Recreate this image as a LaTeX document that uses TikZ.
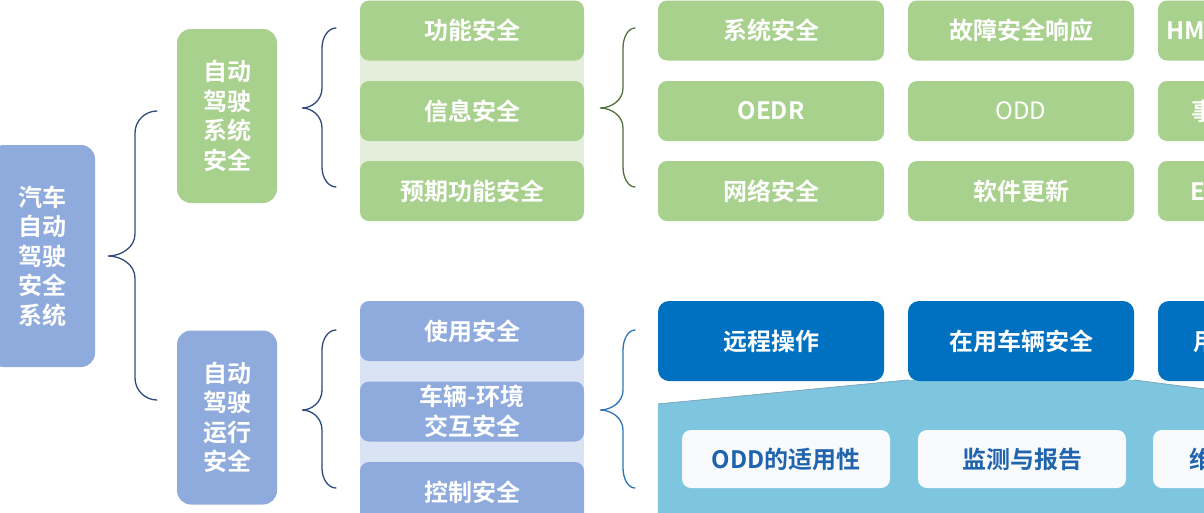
\documentclass[tikz,border=0pt]{standalone}
\usepackage{fontspec}
\setmainfont{Noto Sans CJK SC}[BoldFont={Noto Sans CJK SC Bold}]
\definecolor{cgreen}{HTML}{A9D18E}
\definecolor{cgreenbg}{HTML}{E3EFDA}
\definecolor{cblue}{HTML}{8FAADC}
\definecolor{cbluebg}{HTML}{DAE3F3}
\definecolor{cdeep}{HTML}{0070C0}
\definecolor{ccyan}{HTML}{7EC5E0}
\definecolor{cwhite}{HTML}{F8FAFC}
\definecolor{cwtext}{HTML}{1F64AD}
\definecolor{cnavy}{HTML}{2F4B7C}
\definecolor{cbrgreen}{HTML}{55703F}
\definecolor{cbrblue}{HTML}{2E75B6}
\newcommand{\drawbrace}[8]{% style, xp, ym, xv, xe, yt, yb, r
\draw[#1] (#5,#6) .. controls ({#4+0.45*(#5-#4)},#6) and (#4,{#6+0.45*#8}) .. (#4,{#6+#8})
 -- (#4,{#3-#8}) .. controls (#4,{#3-0.4*#8}) and ({#2+0.5*(#4-#2)},#3) .. (#2,#3)
 .. controls ({#2+0.5*(#4-#2)},#3) and (#4,{#3+0.4*#8}) .. (#4,{#3+#8})
 -- (#4,{#7-#8}) .. controls (#4,{#7-0.45*#8}) and ({#4+0.45*(#5-#4)},#7) .. (#5,#7);}
\tikzset{
  lbl/.style={font=\bfseries\fontsize{24}{29.5}\selectfont, text=white, align=center, inner sep=0pt},
  box/.style={rounded corners=9pt, inner sep=0pt, lbl},
  gbox/.style={box, fill=cgreen, minimum width=224pt, minimum height=60pt},
  bbox/.style={box, fill=cblue, minimum width=224pt, minimum height=60pt},
  ggrid/.style={box, fill=cgreen, minimum width=226pt, minimum height=60pt},
  dbox/.style={box, fill=cdeep, minimum width=226pt, minimum height=80pt, rounded corners=11pt},
  wbox/.style={box, fill=cwhite, text=cwtext, minimum width=208pt, minimum height=58pt},
  tall/.style={box, minimum width=100pt, minimum height=174pt, rounded corners=14pt},
  edge/.style={line width=1.3pt, line cap=round},
}
\begin{document}
\begin{tikzpicture}[x=1pt,y=-1pt]
\useasboundingbox (0,0) rectangle (1204,512);
\clip (0,0) rectangle (1204,512);
\fill[white] (0,0) rectangle (1204,512);
% root and level 2
\node[tall, fill=cblue, minimum width=105pt, minimum height=222pt] (root) at (42.5,256) {汽车\\自动\\驾驶\\安全\\系统};
\node[tall, fill=cgreen] (sys) at (227,116) {自动\\驾驶\\系统\\安全};
\node[tall, fill=cblue] (ops) at (227,417.5) {自动\\驾驶\\运行\\安全};
% middle column backgrounds
\fill[cgreenbg] (360,10) rectangle (584,211);
\fill[cbluebg] (360,311) rectangle (584,512);
\node[gbox] (f1) at (472,30.5) {功能安全};
\node[gbox] (f2) at (472,111) {信息安全};
\node[gbox] (f3) at (472,191) {预期功能安全};
\node[bbox] (u1) at (472,331) {使用安全};
\node[bbox] (u2) at (472,411.5) {车辆-环境\\交互安全};
\node[bbox] (u3) at (472,492) {控制安全};
% right green grid
\node[ggrid] (g11) at (771,30.5) {系统安全};
\node[ggrid] (g12) at (1021,30.5) {故障安全响应};
\node[ggrid] (g13) at (1271,30.5) {};
\node[ggrid] (g21) at (771,111) {OEDR};
\node[ggrid, font=\fontsize{24}{29.5}\selectfont] (g22) at (1021,111) {ODD};
\node[ggrid] (g23) at (1271,111) {};
\node[ggrid] (g31) at (771,191) {网络安全};
\node[ggrid] (g32) at (1021,191) {软件更新};
\node[ggrid] (g33) at (1271,191) {};
\node[lbl, anchor=west] (t13) at (1166,30.5) {HMI人机交互界面};
\node[lbl, anchor=west] (t23) at (1191,111) {事故后行为};
\node[lbl, anchor=west] (t33) at (1190,191) {EDR数据记录};
% lower right
\filldraw[fill=ccyan, draw=ccyan] (658,404) -- (908,380) -- (1134,380) -- (1204,389) -- (1204,520) -- (658,520) -- cycle;
\draw[line width=0.8pt, color=ccyan!60!gray] (658,404) -- (908,380) (1134,380) -- (1204,389);
\node[dbox] (d1) at (771,341) {远程操作};
\node[dbox] (d2) at (1021,341) {在用车辆安全};
\node[dbox] (d3) at (1271,341) {};
\node[lbl, anchor=west] (t43) at (1193,341) {用户教育培训};
\node[wbox] (w1) at (786,459) {ODD的适用性};
\node[wbox] (w2) at (1022,459) {监测与报告};
\node[wbox] (w3) at (1257,459) {};
\node[lbl, text=cwtext, anchor=west] (t53) at (1189,459) {维护保养};
% braces
\coordinate (br1) at (108,256);
\coordinate (br2) at (302,108);
\coordinate (br3) at (302,410);
\coordinate (br4) at (600,108);
\coordinate (br5) at (600,410);
\drawbrace{edge, cnavy}{108}{256}{135}{157}{111}{400}{22}
\drawbrace{edge, cnavy}{302}{108}{322}{336}{28}{187}{20}
\drawbrace{edge, cnavy}{302}{410}{322}{336}{330}{488}{20}
\drawbrace{edge, cbrgreen}{600}{108}{623}{635}{28}{187}{20}
\drawbrace{edge, cbrblue}{600}{410}{623}{635}{330}{488}{20}
\end{tikzpicture}
\end{document}
